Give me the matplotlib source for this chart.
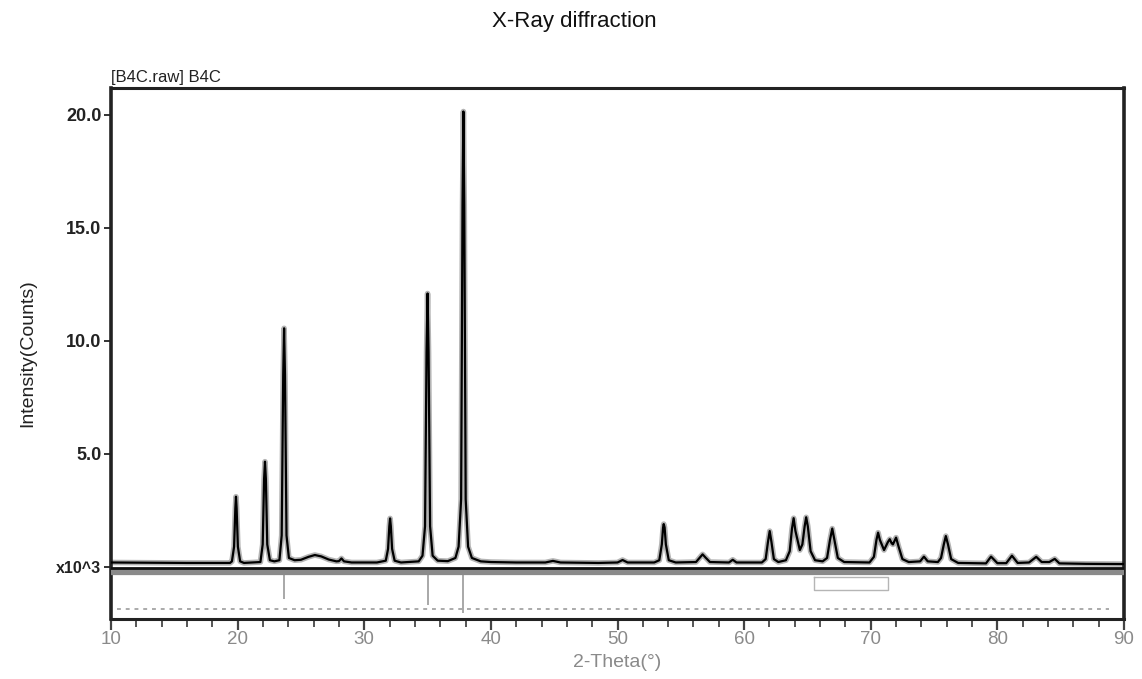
import matplotlib.pyplot as plt
from matplotlib.ticker import MultipleLocator, FixedLocator

plt.rcParams['font.family'] = ['Liberation Sans', 'DejaVu Sans']

two_theta = [
    10.0, 13.0, 16.0, 19.4,
    19.55, 19.72, 19.82, 19.87, 19.92, 20.02, 20.2, 20.5,
    21.8, 21.98, 22.09, 22.16, 22.23, 22.34, 22.55, 22.9,
    23.3, 23.48, 23.6, 23.67, 23.74, 23.86, 24.05, 24.5,
    25.0, 25.6, 26.1, 26.6, 27.2, 27.8,
    28.0, 28.2, 28.4, 29.0,
    31.0, 31.7, 31.88, 31.98, 32.04, 32.1, 32.2, 32.4, 32.9,
    34.3, 34.6, 34.8, 34.92, 35.0, 35.08, 35.2, 35.4, 35.8,
    36.6, 37.2, 37.45, 37.65, 37.76, 37.83, 37.9, 38.01, 38.2, 38.5, 39.2,
    40.0, 42.0, 44.3, 44.9, 45.5, 48.5, 50.0, 50.4, 50.8, 52.9,
    53.3, 53.5, 53.6, 53.65, 53.72, 53.82, 54.05, 54.6,
    56.2, 56.5, 56.72, 56.95, 57.3,
    58.8, 59.1, 59.4, 61.4,
    61.7, 61.88, 62.02, 62.16, 62.35, 62.7, 63.3,
    63.6, 63.78, 63.91, 64.05, 64.4,
    64.6, 64.78, 64.9, 65.03, 65.25, 65.6, 66.2,
    66.55, 66.78, 66.96, 67.13, 67.4, 67.9, 69.9,
    70.25, 70.45, 70.58, 70.72, 71.05,
    71.35, 71.5, 71.65, 71.75, 72.0, 72.2, 72.5, 73.0,
    73.9, 74.2, 74.5, 75.3,
    75.55, 75.77, 75.93, 76.1, 76.35, 76.9, 79.1,
    79.5, 80.0, 80.7, 81.15, 81.6, 82.5, 83.07, 83.5, 84.1, 84.53, 84.9,
    87.0, 90.0,
]
counts = [
    0.20, 0.19, 0.18, 0.18,
    0.25, 0.9, 2.6, 3.11, 2.6, 0.9, 0.25, 0.18,
    0.22, 1.0, 3.9, 4.66, 3.9, 1.0, 0.3, 0.25,
    0.3, 1.4, 8.5, 10.56, 8.5, 1.4, 0.4, 0.3,
    0.32, 0.45, 0.53, 0.47, 0.33, 0.25,
    0.26, 0.38, 0.25, 0.2,
    0.2, 0.28, 0.8, 1.8, 2.15, 1.8, 0.8, 0.28, 0.2,
    0.25, 0.5, 1.8, 9.5, 12.1, 9.5, 1.8, 0.5, 0.28,
    0.26, 0.4, 0.9, 3.0, 16.0, 20.15, 16.0, 3.0, 0.9, 0.4, 0.25,
    0.22, 0.2, 0.2, 0.27, 0.2, 0.18, 0.2, 0.31, 0.2, 0.2,
    0.3, 1.0, 1.75, 1.9, 1.75, 1.0, 0.3, 0.2,
    0.22, 0.42, 0.56, 0.42, 0.22,
    0.2, 0.32, 0.2, 0.2,
    0.35, 1.1, 1.59, 1.1, 0.35, 0.22, 0.3,
    0.7, 1.7, 2.16, 1.6, 0.75,
    1.0, 1.8, 2.2, 1.8, 0.7, 0.3, 0.25,
    0.4, 1.2, 1.7, 1.2, 0.4, 0.22, 0.2,
    0.45, 1.2, 1.52, 1.2, 0.75,
    1.1, 1.23, 1.05, 1.0, 1.3, 0.9, 0.35, 0.22,
    0.25, 0.46, 0.25, 0.22,
    0.4, 1.0, 1.37, 1.0, 0.35, 0.18, 0.16,
    0.46, 0.17, 0.17, 0.5, 0.18, 0.2, 0.45, 0.22, 0.22, 0.36, 0.16,
    0.14, 0.13,
]

# reference reflections marked in the lower strip (2-theta, depth in x10^3)
ref_pos = [23.67, 35.0, 37.83]
ref_depth = [-1.4, -1.7, -2.05]

y_ticks = [5, 10, 15, 20]
x_major = [10, 20, 30, 40, 50, 60, 70, 80, 90]

fig = plt.figure(figsize=(11.42, 6.79), dpi=100)
ax = fig.add_axes([111 / 1142, 1 - 619 / 679, 1013 / 1142, 531 / 679])

# calculated profile (grey halo) and observed profile (black)
ax.plot(two_theta, counts, color='#b4b4b4', lw=4.0, solid_joinstyle='round', zorder=2)
ax.plot(two_theta, counts, color='black', lw=1.6, solid_joinstyle='round', zorder=3)

# separator between pattern and difference strip
ax.axhline(-0.2, color='#8a8a8a', lw=4.5, zorder=4)
ax.axhline(-0.05, color='#111111', lw=2.0, zorder=4)

# difference strip
ax.plot([10.5, 88.8], [-1.85, -1.85], color='#aaaaaa', lw=1.4, ls=(0, (2, 2.5)), zorder=2)
ax.vlines(ref_pos, -0.3, ref_depth, color='#9a9a9a', lw=1.2, zorder=2)
ax.plot([65.5, 71.4, 71.4, 65.5, 65.5], [-0.45, -0.45, -1.0, -1.0, -0.45],
        color='#b5b5b5', lw=1.0, zorder=2)

ax.set_xlim(10, 90)
ax.set_ylim(-2.30, 21.19)

ax.xaxis.set_major_locator(FixedLocator(x_major))
ax.xaxis.set_minor_locator(MultipleLocator(2))
ax.set_yticks([0] + y_ticks)
ax.set_yticklabels(['x10^3'] + ['%.1f' % v for v in y_ticks])

ax.tick_params(axis='x', which='major', direction='out', length=8, width=1.6,
               color='#444444', labelsize=13.5, labelcolor='#8a8a8a', pad=1)
ax.tick_params(axis='x', which='minor', direction='out', length=6, width=1.4,
               color='#555555')
ax.tick_params(axis='y', which='major', direction='out', length=5, width=1.4,
               color='#333333', labelsize=13, labelcolor='#222222', pad=2)
for lab in ax.get_yticklabels():
    lab.set_fontweight('bold')
ax.get_yticklabels()[0].set_fontsize(11.5)

for side, lw in (('left', 2.6), ('right', 2.6), ('top', 2.2), ('bottom', 2.2)):
    ax.spines[side].set_linewidth(lw)
    ax.spines[side].set_color('#222222')

ax.set_xlabel('2-Theta(°)', fontsize=14, color='#8a8a8a', labelpad=4)
ax.set_ylabel('Intensity(Counts)', fontsize=14, color='#222222', labelpad=14)

fig.text(0.503, 1 - 22 / 679, 'X-Ray diffraction', ha='center', va='center',
         fontsize=16, color='#111111')
ax.text(0.0, 1.006, '[B4C.raw] B4C', transform=ax.transAxes, ha='left', va='bottom',
        fontsize=12, color='#222222')

fig.savefig('out.png', dpi=100)
